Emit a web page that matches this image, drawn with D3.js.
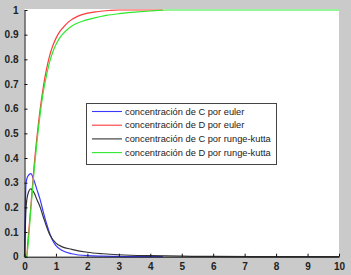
<!DOCTYPE html>
<html>
<head>
<meta charset="utf-8">
<script src="https://cdn.jsdelivr.net/npm/d3@7"></script>
<style>
  html, body { margin: 0; padding: 0; background: #cacaca; }
  svg { display: block; }
  .tick text { font-family: Arial, "Liberation Sans", sans-serif; font-size: 10px; font-weight: bold; fill: #222; }
</style>
</head>
<body>
<svg id="chart" width="351" height="275"></svg>
<script>
// Data
var cEulerT = [0, 0.05, 0.1, 0.2, 0.3, 0.4, 0.5, 0.6, 0.7, 0.8, 0.9, 1.0, 1.2, 1.5, 2.0, 2.5, 3.0, 3.5, 4.4];
var cEulerV = [0, 0.3, 0.325, 0.337, 0.31, 0.27, 0.23, 0.18, 0.135, 0.095, 0.065, 0.045, 0.025, 0.012, 0.004, 0.002, 0.001, 0, 0];

var dEulerT = [0, 0.07, 0.1, 0.2, 0.3, 0.4, 0.5, 0.6, 0.7, 0.8, 0.9, 1.0, 1.1, 1.2, 1.4, 1.7, 2.0, 2.3, 2.7, 3.0, 4.4];
var dEulerV = [0, 0, 0.05, 0.2, 0.36, 0.49, 0.6, 0.69, 0.76, 0.815, 0.855, 0.885, 0.908, 0.925, 0.952, 0.975, 0.987, 0.993, 0.998, 1, 1];

var cRkT = [0, 0.05, 0.1, 0.2, 0.3, 0.4, 0.5, 0.6, 0.8, 1.0, 1.2, 1.5, 2.0, 2.5, 3.0, 4.0, 5.0, 6.0, 8.0, 10];
var cRkV = [0, 0.2, 0.25, 0.275, 0.26, 0.23, 0.2, 0.16, 0.09, 0.055, 0.04, 0.03, 0.018, 0.012, 0.008, 0.004, 0.002, 0.001, 0, 0];

var dRkT = [0, 0.07, 0.1, 0.2, 0.3, 0.4, 0.5, 0.6, 0.7, 0.8, 0.9, 1.0, 1.1, 1.2, 1.4, 1.6, 1.9, 2.2, 2.6, 3.0, 3.5, 4.0, 4.5, 10];
var dRkV = [0, 0, 0.03, 0.19, 0.34, 0.47, 0.58, 0.67, 0.735, 0.79, 0.83, 0.86, 0.883, 0.9, 0.925, 0.942, 0.957, 0.967, 0.978, 0.985, 0.991, 0.996, 1, 1];

var xTicks = [0, 1, 2, 3, 4, 5, 6, 7, 8, 9, 10];
var yTicks = [0, 0.1, 0.2, 0.3, 0.4, 0.5, 0.6, 0.7, 0.8, 0.9, 1];

var seriesNames = [
  'concentración de C por euler',
  'concentración de D por euler',
  'concentración de C por runge-kutta',
  'concentración de D por runge-kutta'
];
var seriesColors = ['#3a3aff', '#ff3a3a', '#333333', '#2ee82e'];

function zip(ts, vs) {
  return ts.map(function (t, i) { return { t: t, v: vs[i] }; });
}
var series = [
  zip(cEulerT, cEulerV),
  zip(dEulerT, dEulerV),
  zip(cRkT, cRkV),
  zip(dRkT, dRkV)
];

// Layout
var margin = { left: 24.5, top: 10, right: 12, bottom: 18.3 };
var width = 351, height = 275;
var svg = d3.select('#chart');

var x = d3.scaleLinear().domain([0, 10]).range([margin.left, width - margin.right]);
var y = d3.scaleLinear().domain([0, 1]).range([height - margin.bottom, margin.top]);

// Plot area (one pixel taller so the line at 1 stays on white)
svg.append('rect')
   .attr('x', x(0))
   .attr('y', y(1) - 1)
   .attr('width', x(10) - x(0))
   .attr('height', y(0) - y(1) + 1)
   .attr('fill', '#fff');

// Lines
var line = d3.line()
             .x(function (d) { return x(d.t); })
             .y(function (d) { return y(d.v); })
             .curve(d3.curveMonotoneX);

svg.selectAll('.series')
   .data(series)
   .enter()
   .append('path')
   .attr('class', 'series')
   .attr('d', line)
   .attr('fill', 'none')
   .attr('stroke', function (d, i) { return seriesColors[i]; })
   .attr('stroke-width', 1.2);

// Axes (ticks inside, like MATLAB)
var xAxis = d3.axisBottom(x)
              .tickValues(xTicks)
              .tickFormat(d3.format('d'))
              .tickSizeInner(-3)
              .tickSizeOuter(0)
              .tickPadding(6);
var yAxis = d3.axisLeft(y)
              .tickValues(yTicks)
              .tickFormat(function (d) { return String(d); })
              .tickSizeInner(-3)
              .tickSizeOuter(0)
              .tickPadding(6);

var gx = svg.append('g')
            .attr('transform', 'translate(0,' + y(0) + ')')
            .call(xAxis);
var gy = svg.append('g')
            .attr('transform', 'translate(' + x(0) + ',0)')
            .call(yAxis);
[gx, gy].forEach(function (g) {
  g.select('.domain').attr('stroke', '#111').attr('stroke-width', 1);
  g.selectAll('.tick line').attr('stroke', '#111');
});

// Legend
var lgX = 86, lgY = 103, lgW = 190, lgH = 61;
var legend = svg.append('g');
legend.append('rect')
      .attr('x', lgX + 0.5)
      .attr('y', lgY + 0.5)
      .attr('width', lgW)
      .attr('height', lgH)
      .attr('fill', '#fff')
      .attr('stroke', '#444')
      .attr('stroke-width', 1);
var item = legend.selectAll('.item')
                 .data(seriesNames)
                 .enter()
                 .append('g')
                 .attr('class', 'item')
                 .attr('transform', function (d, i) {
                   return 'translate(' + lgX + ',' + (lgY + 8.5 + i * 13.7) + ')';
                 });
item.append('line')
    .attr('x1', 6)
    .attr('x2', 36)
    .attr('y1', 0)
    .attr('y2', 0)
    .attr('stroke', function (d, i) { return seriesColors[i]; })
    .attr('stroke-width', 1.1);
item.append('text')
    .attr('x', 39)
    .attr('y', 0)
    .attr('dy', '0.35em')
    .attr('font-family', 'Arial, "Liberation Sans", sans-serif')
    .attr('font-size', '9.3px')
    .attr('fill', '#222')
    .text(function (d) { return d; });
</script>
</body>
</html>
